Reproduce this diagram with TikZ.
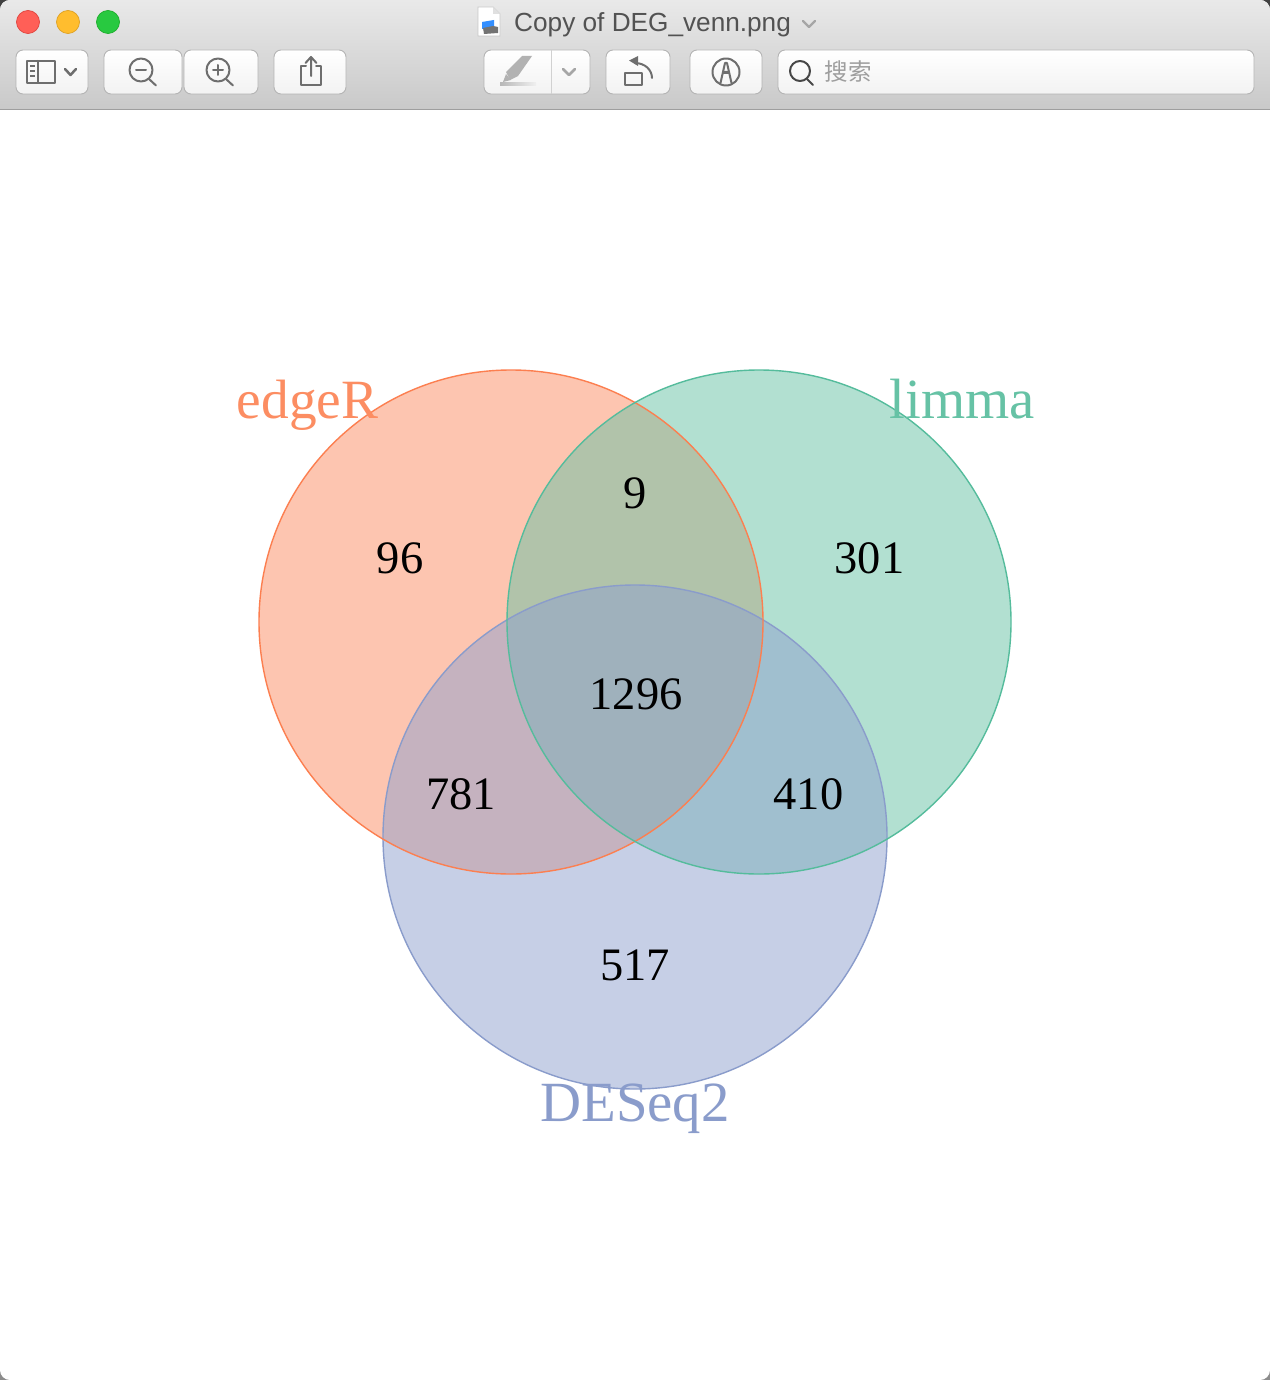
\documentclass[tikz,border=0pt]{standalone}
\usepackage{fontspec}
\setmainfont{Liberation Serif}
\newfontfamily\uifont{Liberation Sans}
\newfontfamily\cjkfont{Noto Sans CJK SC}
\definecolor{cedge}{HTML}{FC8D62}
\definecolor{clim}{HTML}{66C2A5}
\definecolor{cdes}{HTML}{8FA0CF}
\definecolor{cedgeline}{HTML}{FC7F50}
\definecolor{climline}{HTML}{55BC9C}
\definecolor{cdesline}{HTML}{8A9CCB}
\definecolor{icon}{HTML}{6E6E6E}
\definecolor{bartop}{HTML}{E9E9E9}
\definecolor{barbot}{HTML}{C9C9C9}
\definecolor{btnline}{HTML}{B4B4B4}
\definecolor{tlred}{HTML}{FF5F57}
\definecolor{tlredl}{HTML}{E0443E}
\definecolor{tlyel}{HTML}{FFBD2E}
\definecolor{tlyell}{HTML}{DEA123}
\definecolor{tlgrn}{HTML}{28C940}
\definecolor{tlgrnl}{HTML}{1DAD2B}
\tikzset{
  setcircle/.style={circle,minimum size=504pt,inner sep=0pt,fill=#1,fill opacity=.5},
  setline/.style={circle,minimum size=504pt,inner sep=0pt,draw=#1,line width=1.4pt},
  count/.style={font=\fontsize{46.5}{46.5}\selectfont,text=black,inner sep=0pt,anchor=base},
  setname/.style={font=\fontsize{56.8}{56.8}\selectfont,inner sep=0pt,anchor=base},
  tbtn/.style={draw=btnline,line width=.9pt,rounded corners=7pt,top color=white,bottom color=black!5},
  ic/.style={draw=icon,line width=2pt,line cap=round,line join=round},
  lightic/.style={draw=black!35,line width=2.6pt,line cap=round,line join=round},
}
\begin{document}
\begin{tikzpicture}[x=1pt,y=-1pt]
\useasboundingbox (0,0) rectangle (1270,1380);
% window frame
\fill[black!75] (0,0) rectangle (1270,20);
\fill[black!45] (0,1360) rectangle (1270,1380);
\fill[white,rounded corners=10pt] (0,0) rectangle (1270,1380);
\begin{scope}
\clip[rounded corners=10pt] (0,0) rectangle (1270,1380);
\path[top color=bartop,bottom color=barbot] (0,0) rectangle (1270,109);
\end{scope}
\draw[black!38,line width=1.2pt] (0,109.5) -- (1270,109.5);
% traffic lights
\filldraw[fill=tlred,draw=tlredl,line width=.7pt] (28,22) circle (11.5);
\filldraw[fill=tlyel,draw=tlyell,line width=.7pt] (68,22) circle (11.5);
\filldraw[fill=tlgrn,draw=tlgrnl,line width=.7pt] (108,22) circle (11.5);
% title
\node[font=\uifont\fontsize{26.2}{26.2}\selectfont,text=black!68,inner sep=0pt,anchor=base west] (title) at (514,32) {Copy of DEG\_venn.png};
\draw[black!35,line width=2.4pt,line cap=round,line join=round] (803,21) -- (809,27) -- (815,21);
% document icon
\filldraw[fill=white,draw=black!22,line width=.7pt] (478,7) -- (493,7) -- (500,14) -- (500,36) -- (478,36) -- cycle;
\fill[black!12] (493,7) -- (493,14) -- (500,14) -- cycle;
\fill[blue!55!cyan!80!white] (482,22) -- (494,20) -- (494,27) -- (482,29) -- cycle;
\fill[black!55] (483,28) -- (493,26) -- (498,27) -- (498,33) -- (484,34) -- cycle;
% buttons
\draw[tbtn] (16,50) rectangle (88,94);
\draw[tbtn] (104,50) rectangle (182,94);
\draw[tbtn] (184,50) rectangle (258,94);
\draw[tbtn] (274,50) rectangle (346,94);
\draw[tbtn] (484,50) rectangle (590,94);
\draw[black!18,line width=.9pt] (551,50) -- (551,94);
\draw[tbtn] (606,50) rectangle (670,94);
\draw[tbtn] (690,50) rectangle (762,94);
\draw[tbtn] (778,50) rectangle (1254,94);
% sidebar icon
\draw[ic] (27,61) rectangle (55,83);
\draw[ic] (38,61) -- (38,83);
\draw[icon,line width=1.6pt] (30,66) -- (35,66) (30,71) -- (35,71) (30,76) -- (35,76);
\draw[ic,line width=2.5pt] (65,69) -- (70.5,75) -- (76,69);
% zoom icons
\draw[ic] (141,70) circle (11.5);
\draw[ic] (149,79) -- (156,85.5);
\draw[ic] (136,70) -- (146,70);
\draw[ic] (218,70) circle (11.5);
\draw[ic] (226,79) -- (233,85.5);
\draw[ic] (213,70) -- (223,70) (218,65) -- (218,75);
% share icon
\draw[ic] (306,66) -- (301,66) -- (301,85) -- (321,85) -- (321,66) -- (316,66);
\draw[ic] (311,76) -- (311,58) (305.5,63) -- (311,57) -- (316.5,63);
% markup pen
\fill[black!30] (506,72) -- (522,56) -- (532,56) -- (518,76) -- (510,80) -- cycle;
\fill[black!30] (503,82) -- (506,74) -- (511,80) -- cycle;
\shade[left color=black!28,right color=black!6] (500,83) rectangle (536,86);
\draw[lightic] (563,69) -- (569,75) -- (575,69);
% rotate icon
\draw[ic] (625,73) rectangle (642,85);
\draw[ic] (652,78) .. controls (652,70) and (645,63) .. (635,63);
\fill[icon] (629,60.5) -- (638,56) -- (638,66) -- cycle;
% annotate icon
\draw[ic] (726,72) circle (13.5);
\draw[ic] (720.5,83) -- (725,63) -- (727,63) -- (731.5,83);
\fill[icon] (723,71) -- (729,71) -- (730,74) -- (722,74) -- cycle;
% search
\draw[ic,draw=black!72] (800,71) circle (10);
\draw[ic,draw=black!72] (807,79) -- (813,85);
\node[font=\cjkfont\fontsize{23.5}{23.5}\selectfont,text=black!38,inner sep=0pt] (search) at (848,71.5) {搜索};
% venn fills
\node[setcircle=cedge] (A) at (511,622) {};
\node[setcircle=clim] (B) at (759,622) {};
\node[setcircle=cdes] (C) at (635,837) {};
% venn outlines
\node[setline=cdesline] (Cl) at (635,837) {};
\node[setline=cedgeline] (Al) at (511,622) {};
\node[setline=climline] (Bl) at (759,622) {};
% set names
\node[setname,text=cedge,font=\fontsize{55.4}{55.4}\selectfont] (nA) at (307.5,418) {edgeR};
\node[setname,text=clim] (nB) at (962,418) {limma};
\node[setname,text=cdesline] (nC) at (635,1121) {DESeq2};
% counts
\node[count] (n96) at (400,573) {96};
\node[count] (n9) at (635,508) {9};
\node[count] (n301) at (869.5,573) {301};
\node[count] (n1296) at (636,709) {1296};
\node[count] (n781) at (461,809) {781};
\node[count] (n410) at (808.5,809) {410};
\node[count] (n517) at (635,980) {517};
\end{tikzpicture}
\end{document}
